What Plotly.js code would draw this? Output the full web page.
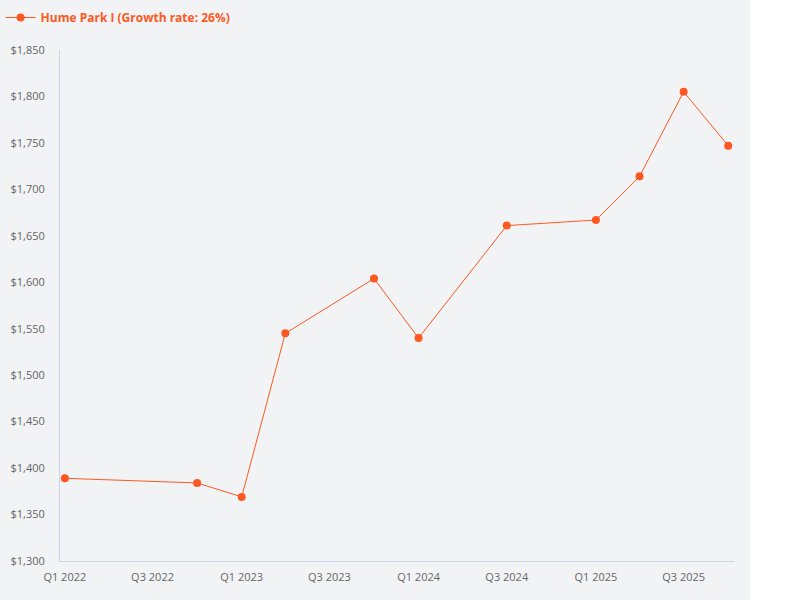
<!DOCTYPE html>
<html>
<head>
<meta charset="utf-8">
<script src="https://cdn.plot.ly/plotly-3.0.1.min.js"></script>
<style>
  body { margin: 0; background: #ffffff; }
  #chart { width: 750px; height: 600px; }
</style>
</head>
<body>
<div id="chart"></div>
<script>
// quarter start dates and median values
var quarters = ['2022-01-01', '2022-10-01', '2023-01-01', '2023-04-01', '2023-10-01', '2024-01-01',
                '2024-07-01', '2025-01-01', '2025-04-01', '2025-07-01', '2025-10-01'];
var prices = [1389, 1384, 1369, 1545, 1604, 1540, 1661, 1667, 1714, 1805, 1747];

var tickDates = ['2022-01-01', '2022-07-01', '2023-01-01', '2023-07-01', '2024-01-01', '2024-07-01', '2025-01-01', '2025-07-01'];
var tickLabels = ['Q1 2022', 'Q3 2022', 'Q1 2023', 'Q3 2023', 'Q1 2024', 'Q3 2024', 'Q1 2025', 'Q3 2025'];

var seriesName = 'Hume Park I (Growth rate: 26%)';
var orange = '#ff5722';

var trace = {
  x: quarters,
  y: prices,
  name: seriesName,
  type: 'scatter',
  mode: 'lines+markers',
  line: { color: orange, width: 1 },
  marker: { color: orange, size: 8 },
  showlegend: true
};

var layout = {
  width: 750,
  height: 600,
  paper_bgcolor: '#f2f3f5',
  plot_bgcolor: '#f2f3f5',
  font: { family: 'Open Sans, sans-serif', size: 11, color: '#666666' },
  margin: { l: 60, r: 15, t: 50, b: 39 },
  showlegend: true,
  legend: {
    orientation: 'h',
    x: -0.088, y: 0.995,
    xref: 'paper', yref: 'container',
    xanchor: 'left', yanchor: 'top',
    itemwidth: 30,
    font: { size: 12, color: orange, weight: 'bold' },
    bgcolor: 'rgba(0,0,0,0)'
  },
  xaxis: {
    type: 'date',
    range: ['2021-12-22', '2025-10-15'],
    tickvals: tickDates,
    ticktext: tickLabels,
    showgrid: false,
    zeroline: false,
    showline: true,
    linecolor: '#c8d6e8',
    linewidth: 1,
    ticks: '',
    ticklabelstandoff: 6,
    tickfont: { size: 11, color: '#666666' }
  },
  yaxis: {
    range: [1300, 1850],
    dtick: 50,
    tickprefix: '$',
    tickformat: ',d',
    showgrid: false,
    zeroline: false,
    showline: true,
    linecolor: '#c8d6e8',
    linewidth: 1,
    ticks: '',
    ticklabelstandoff: 12,
    tickfont: { size: 11, color: '#666666' }
  }
};

Plotly.newPlot('chart', [trace], layout, { displayModeBar: false });
</script>
</body>
</html>
